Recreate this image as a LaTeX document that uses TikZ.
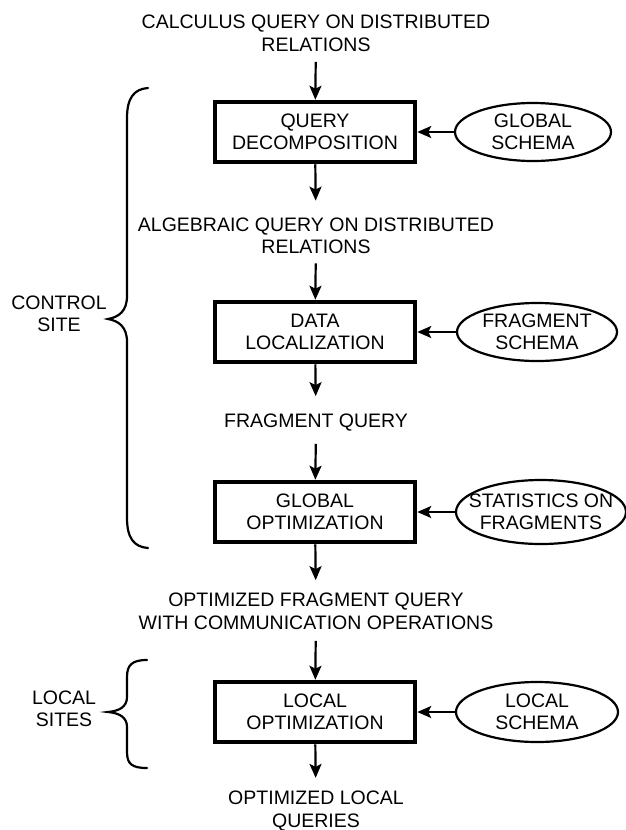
\documentclass[tikz,border=0pt]{standalone}
\usepackage{fontspec}
\setmainfont{Liberation Sans}
\usetikzlibrary{arrows.meta,shapes.geometric}
\begin{document}
\begin{tikzpicture}[x=1pt,y=-1pt,
  txt/.style={font=\fontsize{19.5}{22.5}\selectfont, align=center, inner sep=0pt},
  procbox/.style={draw, line width=4.5pt, minimum width=200pt, minimum height=60pt, inner sep=0pt, font=\fontsize{19.5}{22.5}\selectfont, align=center},
  schema/.style={draw, ellipse, line width=2.2pt, inner sep=0pt},
  arr/.style={line width=2.2pt, -{Stealth[length=14pt,width=12pt,inset=3pt]}},
  brace/.style={line width=2.2pt, line cap=round}]
\fill[white] (0,0) rectangle (626,830);
\path[use as bounding box] (0,0) rectangle (626,830);

% flow texts
\node[txt] (t1) at (316,33.5) {CALCULUS QUERY ON DISTRIBUTED\\RELATIONS};
\node[txt] (t2) at (316,236) {ALGEBRAIC QUERY ON DISTRIBUTED\\RELATIONS};
\node[txt] (t3) at (316,423) {FRAGMENT QUERY};
\node[txt] (t4) at (316,611.5) {OPTIMIZED FRAGMENT QUERY\\WITH COMMUNICATION OPERATIONS};
\node[txt] (t5) at (316,811) {OPTIMIZED LOCAL\\QUERIES};

% process boxes
\node[procbox] (b1) at (315,132) {QUERY\\DECOMPOSITION};
\node[procbox] (b2) at (315,332) {DATA\\LOCALIZATION};
\node[procbox] (b3) at (315,512) {GLOBAL\\OPTIMIZATION};
\node[procbox] (b4) at (315,712) {LOCAL\\OPTIMIZATION};

% schema ellipses
\node[schema, minimum width=156pt, minimum height=58pt] (e1) at (533,132) {};
\node[txt] (e1t) at (e1) {GLOBAL\\SCHEMA};
\node[schema, minimum width=160pt, minimum height=58pt] (e2) at (537,332) {};
\node[txt] (e2t) at (e2) {FRAGMENT\\SCHEMA};
\node[schema, minimum width=170pt, minimum height=64pt] (e3) at (541,512) {};
\node[txt] (e3t) at (e3) {STATISTICS ON\\FRAGMENTS};
\node[schema, minimum width=162pt, minimum height=60pt] (e4) at (537,712) {};
\node[txt] (e4t) at (e4) {LOCAL\\SCHEMA};

% vertical flow arrows
\draw[arr, shorten <=10pt] (t1) -- (b1);
\draw[arr, shorten >=17pt] (b1) -- (t2);
\draw[arr, shorten <=9pt] (t2) -- (b2);
\draw[arr, shorten >=18pt] (b2) -- (t3);
\draw[arr, shorten <=12pt] (t3) -- (b3);
\draw[arr, shorten >=13pt] (b3) -- (t4);
\draw[arr, shorten <=11pt] (t4) -- (b4);
\draw[arr, shorten >=13pt] (b4) -- (t5);

% schema arrows
\draw[arr] (e1) -- (b1);
\draw[arr] (e2) -- (b2);
\draw[arr] (e3) -- (b3);
\draw[arr] (e4) -- (b4);

% braces and labels
\draw[brace] (148,88) .. controls (134,89) and (127,98) .. (127,118) -- (127,296)
  .. controls (127,311) and (119,317) .. (108,319)
  .. controls (119,321) and (127,327) .. (127,342) -- (127,518)
  .. controls (127,538) and (134,547) .. (148,548);
\node[txt] (cs) at (59,314) {CONTROL\\SITE};

\draw[brace] (147,660) .. controls (132,660) and (127,665) .. (127,677) -- (127,697)
  .. controls (127,707) and (119,711) .. (108,712)
  .. controls (119,713) and (127,717) .. (127,727) -- (127,752)
  .. controls (127,764) and (132,768) .. (147,768);
\node[txt] (ls) at (64,709) {LOCAL\\SITES};
\end{tikzpicture}
\end{document}
